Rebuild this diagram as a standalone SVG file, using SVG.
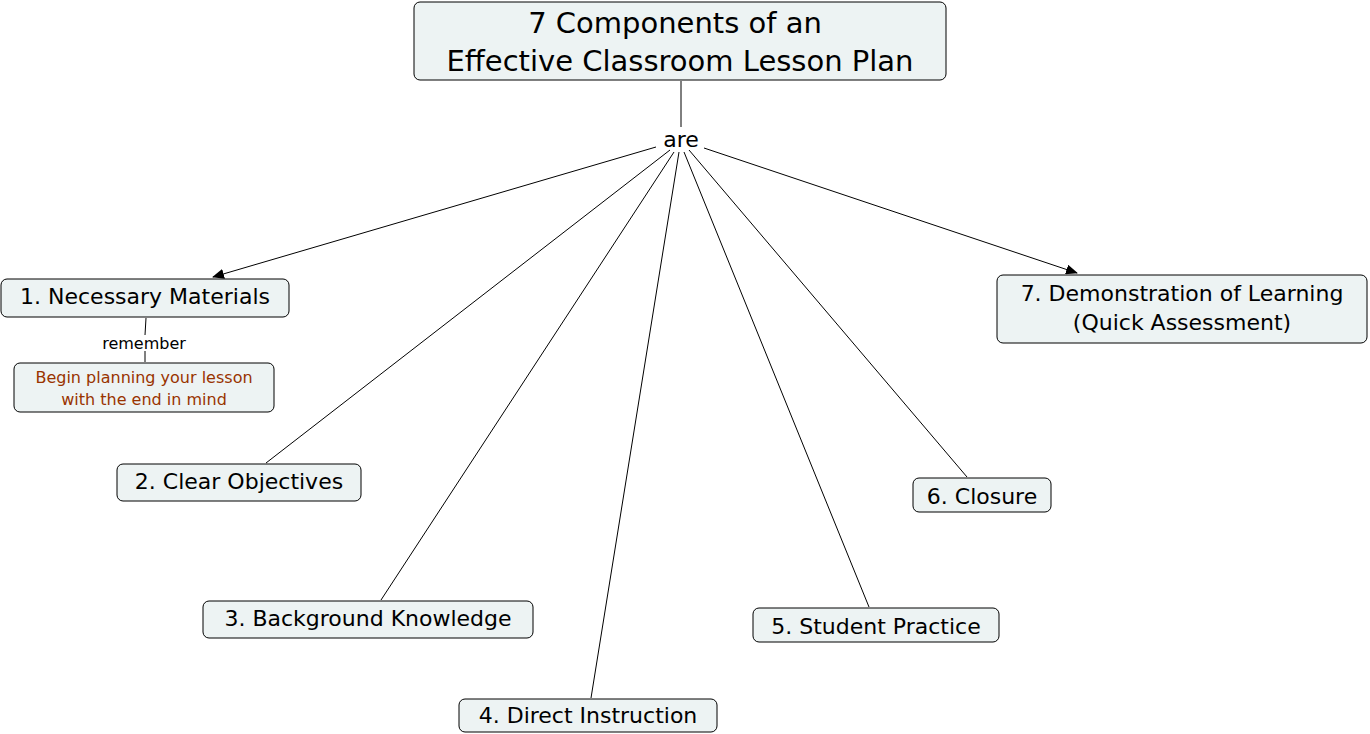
<svg xmlns="http://www.w3.org/2000/svg" width="1370" height="734" viewBox="0 0 1370 734">
<defs>
<style>
.n{fill:#edf3f3;stroke:#000;stroke-width:1}
.t{font-family:"DejaVu Sans",Verdana,sans-serif;fill:#000;text-anchor:middle}
.c{stroke:#000;stroke-width:1;fill:none}
</style>
<marker id="a" markerWidth="12" markerHeight="10" refX="11" refY="5" orient="auto" markerUnits="userSpaceOnUse"><path d="M0,0 L12,5 L0,10 z" fill="#000"/></marker>
</defs>
<rect width="1370" height="734" fill="#fff"/>
<g id="connectors">
<line class="c" x1="681" y1="81" x2="681" y2="127"/>
<line class="c" x1="656" y1="147" x2="213" y2="277" marker-end="url(#a)"/>
<line class="c" x1="704" y1="148" x2="1077" y2="273" marker-end="url(#a)"/>
<line class="c" x1="670" y1="150" x2="266" y2="463"/>
<line class="c" x1="674" y1="152" x2="381" y2="600"/>
<line class="c" x1="679" y1="152" x2="591" y2="698"/>
<line class="c" x1="684" y1="152" x2="869" y2="607"/>
<line class="c" x1="689" y1="150" x2="967" y2="477"/>
<line class="c" x1="146" y1="318" x2="145" y2="335"/>
<line class="c" x1="145" y1="351" x2="145" y2="362"/>
</g>
<g id="root"><rect class="n" x="414" y="2" width="532" height="78" rx="6"/>
<text class="t" font-size="29" x="675" y="33">7 Components of an</text>
<text class="t" font-size="29" x="680" y="71">Effective Classroom Lesson Plan</text></g>
<g id="are"><text class="t" font-size="22" x="681" y="147">are</text></g>
<g id="n1"><rect class="n" x="1" y="279" width="288" height="38" rx="6"/><text class="t" font-size="22" x="145" y="304">1. Necessary Materials</text></g>
<g id="remember"><text class="t" font-size="16" x="144" y="349">remember</text></g>
<g id="note"><rect class="n" x="14" y="363" width="260" height="49" rx="6"/>
<text class="t" font-size="16" x="144" y="383" fill="#993300" style="fill:#993300">Begin planning your lesson</text>
<text class="t" font-size="16" x="144" y="405" style="fill:#993300">with the end in mind</text></g>
<g id="n2"><rect class="n" x="117" y="464" width="244" height="37" rx="6"/><text class="t" font-size="22" x="239" y="489">2. Clear Objectives</text></g>
<g id="n3"><rect class="n" x="203" y="601" width="330" height="37" rx="6"/><text class="t" font-size="22" x="368" y="626">3. Background Knowledge</text></g>
<g id="n4"><rect class="n" x="459" y="699" width="258" height="33" rx="6"/><text class="t" font-size="22" x="588" y="723">4. Direct Instruction</text></g>
<g id="n5"><rect class="n" x="753" y="608" width="246" height="34" rx="6"/><text class="t" font-size="22" x="876" y="634">5. Student Practice</text></g>
<g id="n6"><rect class="n" x="913" y="478" width="138" height="34" rx="6"/><text class="t" font-size="22" x="982" y="504">6. Closure</text></g>
<g id="n7"><rect class="n" x="997" y="275" width="370" height="68" rx="6"/>
<text class="t" font-size="22" x="1182" y="301">7. Demonstration of Learning</text>
<text class="t" font-size="22" x="1182" y="330">(Quick Assessment)</text></g>
</svg>
